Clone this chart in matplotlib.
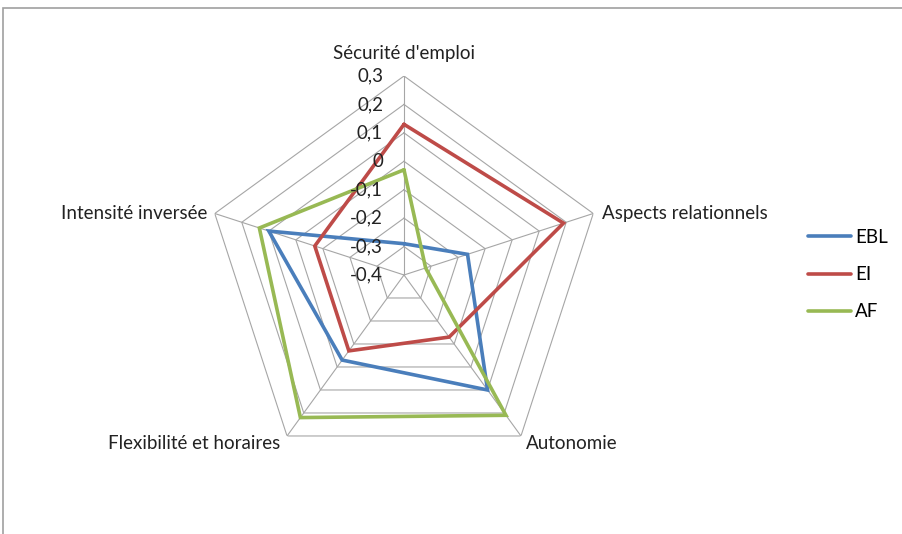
import numpy as np
import matplotlib
matplotlib.use("Agg")
import matplotlib.pyplot as plt
from matplotlib.patches import Rectangle

# ── DONNÉES ───────────────────────────────────────────────────────────────────
categories = ["Sécurité d'emploi", "Aspects relationnels", "Autonomie",
              "Flexibilité et horaires", "Intensité inversée"]
ebl = [-0.29, -0.165, 0.10, -0.03, 0.10]
ei  = [0.13, 0.19, -0.13, -0.07, -0.07]
af  = [-0.03, -0.32, 0.21, 0.22, 0.135]
series = {"EBL": ebl, "EI": ei, "AF": af}
levels = [-0.4, -0.3, -0.2, -0.1, 0, 0.1, 0.2, 0.3]
level_labels = ["-0,4", "-0,3", "-0,2", "-0,1", "0", "0,1", "0,2", "0,3"]

COLORS = {"EBL": "#4A7EBB", "EI": "#BE4B48", "AF": "#98B954"}
GRID = "#A6A6A6"
FONT = "Lato"
FS = 13.5

plt.rcParams["font.family"] = [FONT, "DejaVu Sans"]

fig = plt.figure(figsize=(9.03, 5.34), dpi=100)
fig.patches.append(Rectangle((3.5 / 903, -0.1), 2.0, (534 - 8.5) / 534 + 0.1,
                             transform=fig.transFigure, fill=False,
                             edgecolor="#A0A0A0", lw=1.2))

ax = fig.add_axes([0.2270, 0.1124, 0.4408, 0.7453], projection="polar")
ax.set_theta_offset(np.pi / 2)
ax.set_theta_direction(-1)
ax.set_ylim(levels[0], levels[-1])
ax.set_axis_off()

n = len(categories)
theta = np.linspace(0, 2 * np.pi, n, endpoint=False)
theta_c = np.append(theta, theta[0])

# grille pentagonale
for lv in levels[1:]:
    ax.plot(theta_c, [lv] * (n + 1), color=GRID, lw=0.8, zorder=1)
for t in theta:
    ax.plot([t, t], [levels[0], levels[-1]], color=GRID, lw=0.8, zorder=1)

# séries
for name, vals in series.items():
    ax.plot(theta_c, vals + vals[:1], color=COLORS[name], lw=2.6,
            label=name, zorder=3, solid_joinstyle="miter",
            solid_capstyle="round")

# étiquettes de l'axe des valeurs
for lv, lab in zip(levels, level_labels):
    ax.annotate(lab, (0, lv), xytext=(-21, 0), textcoords="offset pixels",
                ha="right", va="center", fontsize=FS, color="#222222",
                zorder=4)

# noms des catégories
offsets = [((0, 22), "center", "center"),
           ((9, 0), "left", "center"),
           ((5, -8), "left", "center"),
           ((-7, -8), "right", "center"),
           ((-7, 0), "right", "center")]
for t, cat, (off, ha, va) in zip(theta, categories, offsets):
    ax.annotate(cat, (t, levels[-1]), xytext=off, textcoords="offset pixels",
                ha=ha, va=va, fontsize=FS, color="#222222",
                annotation_clip=False)

fig.legend(loc="upper left", bbox_to_anchor=(808 / 903, 1 - 229 / 534),
           frameon=False, fontsize=FS, handlelength=2.3, handletextpad=0.2,
           labelspacing=1.07, borderaxespad=0, borderpad=0)

fig.savefig("out.png", dpi=100)
